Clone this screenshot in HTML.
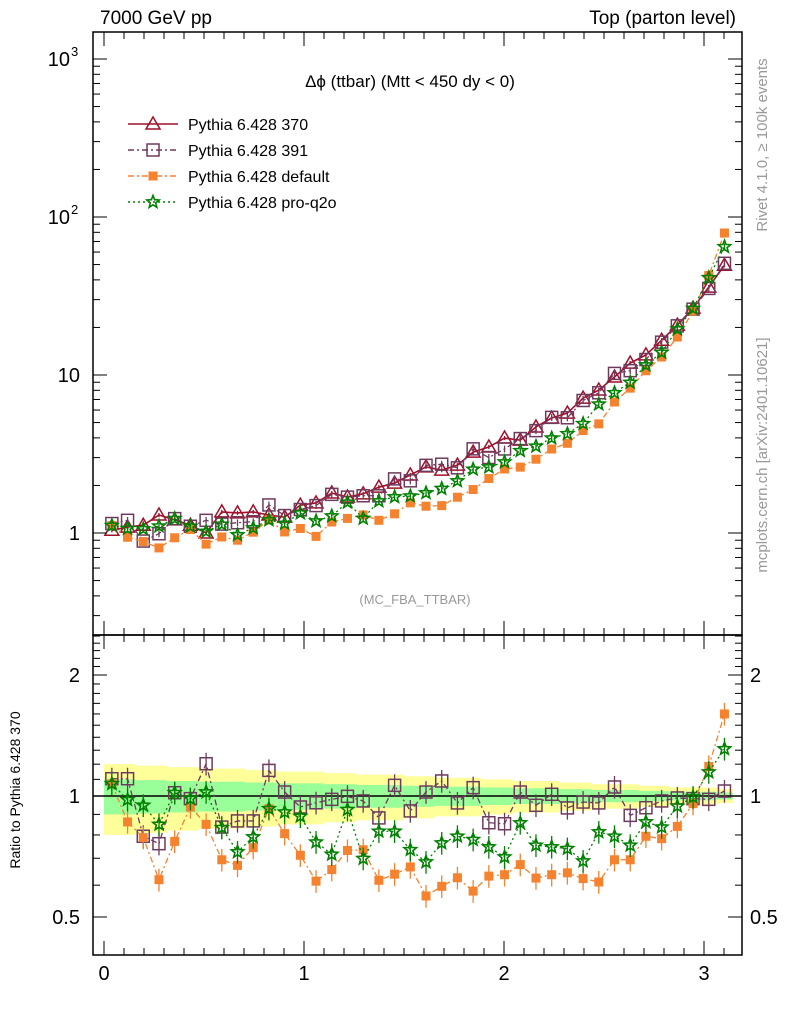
<!DOCTYPE html>
<html><head><meta charset="utf-8"><style>
body{margin:0;background:#fff}
svg text{font-family:"Liberation Sans",sans-serif}
</style></head><body>
<svg id="c" width="786" height="1024" xmlns="http://www.w3.org/2000/svg"></svg>
<script>
const refVals=[1.04,1.09,1.12,1.30,1.21,1.12,1.0,1.36,1.34,1.36,1.30,1.26,1.50,1.55,1.79,1.69,1.77,1.95,2.07,2.33,2.62,2.50,2.69,3.25,3.50,3.99,3.87,4.69,5.34,5.74,7.14,8.03,9.72,11.9,13.4,16.6,20.7,26.5,36.0,49.5];
const ratio391=[1.104,1.104,0.794,0.761,1.019,0.985,1.203,0.837,0.867,0.867,1.158,1.023,0.939,0.962,0.981,0.998,0.972,0.882,1.063,0.918,1.023,1.090,0.961,1.049,0.858,0.853,1.023,0.948,1.010,0.934,0.966,0.961,1.053,0.895,0.935,0.972,0.989,0.985,0.981,1.029];
const ratioDefault=[1.073,0.862,0.788,0.619,0.771,0.939,0.850,0.694,0.672,0.744,0.930,0.806,0.712,0.614,0.656,0.732,0.735,0.617,0.639,0.666,0.564,0.596,0.626,0.580,0.632,0.637,0.675,0.625,0.637,0.644,0.623,0.611,0.694,0.694,0.794,0.783,0.840,0.957,1.185,1.6];
const ratioQ2o=[1.073,0.979,0.948,0.850,1.019,0.985,1.023,0.834,0.726,0.791,0.930,0.912,0.890,0.768,0.716,0.925,0.699,0.817,0.817,0.735,0.685,0.764,0.794,0.779,0.747,0.705,0.857,0.754,0.747,0.740,0.689,0.814,0.794,0.754,0.862,0.837,0.943,0.994,1.147,1.31];
const bandYellow=[0.2,0.2,0.19,0.19,0.18,0.18,0.17,0.17,0.17,0.16,0.16,0.15,0.15,0.15,0.14,0.14,0.13,0.13,0.13,0.12,0.12,0.11,0.11,0.11,0.1,0.1,0.09,0.09,0.09,0.08,0.08,0.07,0.07,0.07,0.06,0.06,0.05,0.05,0.05,0.04];
const xTicks=[0,1,2,3];
const NS="http://www.w3.org/2000/svg";
const svg=document.getElementById('c');
const L=93,R=742,T=32,MB=635,RB=955;
const N=refVals.length, bw=Math.PI/N;
const X=v=>104+200*v;
const YM=v=>533-158*Math.log10(v);
const YR=r=>796-121*Math.log2(r);
function el(t,a,p){const e=document.createElementNS(NS,t);for(const k in a)e.setAttribute(k,a[k]);(p||svg).appendChild(e);return e;}
function txt(s,x,y,a){const e=el('text',Object.assign({x:x,y:y,'font-size':18,fill:'#000'},a));e.textContent=s;return e;}
const gb=el('g',{});
for(let i=0;i<N;i++){const x0=X(i*bw),x1=X((i+1)*bw),y=bandYellow[i];
 el('rect',{x:x0,y:YR(1+y),width:x1-x0+0.5,height:YR(1-y)-YR(1+y),fill:'#ffff99'},gb);
 el('rect',{x:x0,y:YR(1+y*0.5),width:x1-x0+0.5,height:YR(1-y*0.5)-YR(1+y*0.5),fill:'#99ff99'},gb);}
el('line',{x1:L,x2:R,y1:YR(1),y2:YR(1),stroke:'#000','stroke-width':1.5});
function marker(g,type,x,y,col){
 if(type==='tri')el('polygon',{points:`${x},${y-7} ${x-7},${y+5} ${x+7},${y+5}`,fill:'none',stroke:col,'stroke-width':1.5},g);
 else if(type==='sq')el('rect',{x:x-6,y:y-6,width:12,height:12,fill:'none',stroke:col,'stroke-width':1.5},g);
 else if(type==='fsq')el('rect',{x:x-4.5,y:y-4.5,width:9,height:9,fill:col},g);
 else {let p=[];for(let k=0;k<10;k++){const r=k%2?2.8:6.5,a=-Math.PI/2+k*Math.PI/5;p.push((x+r*Math.cos(a)).toFixed(1)+','+(y+r*Math.sin(a)).toFixed(1));}
  el('polygon',{points:p.join(' '),fill:'none',stroke:col,'stroke-width':1.6},g);}
}
const series=[
 {name:'pythia-370',col:'#a0102a',m:'tri',dash:'',ratio:refVals.map(()=>1),err:0.03},
 {name:'pythia-391',col:'#6e3a5e',m:'sq',dash:'6,3,2,3',ratio:ratio391,err:0.05},
 {name:'pythia-default',col:'#f5822e',m:'fsq',dash:'6,3,2,3',ratio:ratioDefault,err:0.05},
 {name:'pythia-pro-q2o',col:'#008000',m:'star',dash:'2,3',ratio:ratioQ2o,err:0.05}];
series.forEach((s,si)=>{
 const g=el('g',{});
 const g2=el('g',{});
 let pm=[],pr=[];
 for(let i=0;i<N;i++){const x=X((i+0.5)*bw),v=refVals[i]*s.ratio[i],y=YM(v),yr=YR(s.ratio[i]);pm.push(x+','+y);pr.push(x+','+yr);}
 el('polyline',{points:pm.join(' '),fill:'none',stroke:s.col,'stroke-width':si?1.3:1.6,'stroke-dasharray':s.dash},g);
 if(si)el('polyline',{points:pr.join(' '),fill:'none',stroke:s.col,'stroke-width':1.3,'stroke-dasharray':s.dash},g2);
 for(let i=0;i<N;i++){const x=X((i+0.5)*bw),v=refVals[i]*s.ratio[i];
  el('line',{x1:x,x2:x,y1:YM(v*(1+s.err)),y2:YM(v*(1-s.err)),stroke:s.col,'stroke-width':1.3},g);
  marker(g,s.m,x,YM(v),s.col);
  if(si){const r=s.ratio[i];el('line',{x1:x,x2:x,y1:YR(r*(1+s.err*1.3)),y2:YR(r*(1-s.err*1.3)),stroke:s.col,'stroke-width':1.3},g2);marker(g2,s.m,x,YR(r),s.col);}
 }
});
el('rect',{x:L,y:T,width:R-L,height:MB-T,fill:'none',stroke:'#000','stroke-width':1.5});
el('rect',{x:L,y:MB,width:R-L,height:RB-MB,fill:'none',stroke:'#000','stroke-width':1.5});
for(let v=0;v<=3.2;v+=0.1){const x=X(v);if(x>R)break;const maj=Math.abs(v-Math.round(v))<0.01;const h=maj?14:7;
 [T,MB].forEach(y=>el('line',{x1:x,x2:x,y1:y,y2:y+h,stroke:'#000'}));
 [MB,RB].forEach(y=>el('line',{x1:x,x2:x,y1:y,y2:y-h,stroke:'#000'}));}
xTicks.forEach(v=>{const t=txt(String(v),X(v),980,{'text-anchor':'middle','font-size':20});});
for(let d=-1;d<=3;d++)for(let k=1;k<10;k++){const v=k*Math.pow(10,d),y=YM(v);if(y<T||y>MB)continue;const h=k===1?14:7;
 el('line',{x1:L,x2:L+h,y1:y,y2:y,stroke:'#000'});el('line',{x1:R,x2:R-h,y1:y,y2:y,stroke:'#000'});}
txt('1',80,540,{'text-anchor':'end','font-size':20});txt('10',80,382,{'text-anchor':'end','font-size':20});
txt('10',70,224,{'text-anchor':'end','font-size':20});txt('2',71,214,{'font-size':13});
txt('10',70,66,{'text-anchor':'end','font-size':20});txt('3',71,56,{'font-size':13});
[0.5,0.6,0.7,0.8,0.9,1,1.1,1.2,1.3,1.4,1.5,1.6,1.7,1.8,1.9,2,2.1,2.2,2.3,2.4,2.5].forEach(r=>{const y=YR(r);if(y<MB||y>RB)return;const h=(r===0.5||r===1||r===2)?14:7;
 el('line',{x1:L,x2:L+h,y1:y,y2:y,stroke:'#000'});el('line',{x1:R,x2:R-h,y1:y,y2:y,stroke:'#000'});});
[['2',2],['1',1],['0.5',0.5]].forEach(([s,r])=>{txt(s,80,YR(r)+7,{'text-anchor':'end','font-size':20});txt(s,750,YR(r)+7,{'font-size':20});});
txt('7000 GeV pp',100,24,{'font-size':19});
txt('Top (parton level)',736,24,{'text-anchor':'end','font-size':19});
const ti=txt('Δϕ (ttbar) (Mtt < 450 dy < 0)',410,87,{'text-anchor':'middle','font-size':17});
txt('(MC_FBA_TTBAR)',415,604,{'text-anchor':'middle','font-size':13,fill:'#999'});
const yl=txt('Ratio to Pythia 6.428 370',0,0,{'text-anchor':'middle','font-size':14,transform:'translate(20,790) rotate(-90)'});
txt('Rivet 4.1.0, ≥ 100k events',0,0,{'text-anchor':'middle','font-size':15,fill:'#999',transform:'translate(767,145) rotate(-90)'});
txt('mcplots.cern.ch [arXiv:2401.10621]',0,0,{'text-anchor':'middle','font-size':15,fill:'#999',transform:'translate(767,455) rotate(-90)'});
const names=['Pythia 6.428 370','Pythia 6.428 391','Pythia 6.428 default','Pythia 6.428 pro-q2o'];
series.forEach((s,i)=>{const y=124+26*i;const g=el('g',{});
 el('line',{x1:128,x2:178,y1:y,y2:y,stroke:s.col,'stroke-width':1.4,'stroke-dasharray':s.dash},g);marker(g,s.m,153,y,s.col);
 const t=txt(names[i],188,y+6,{'font-size':16});g.appendChild(t);});
</script>
</body></html>
